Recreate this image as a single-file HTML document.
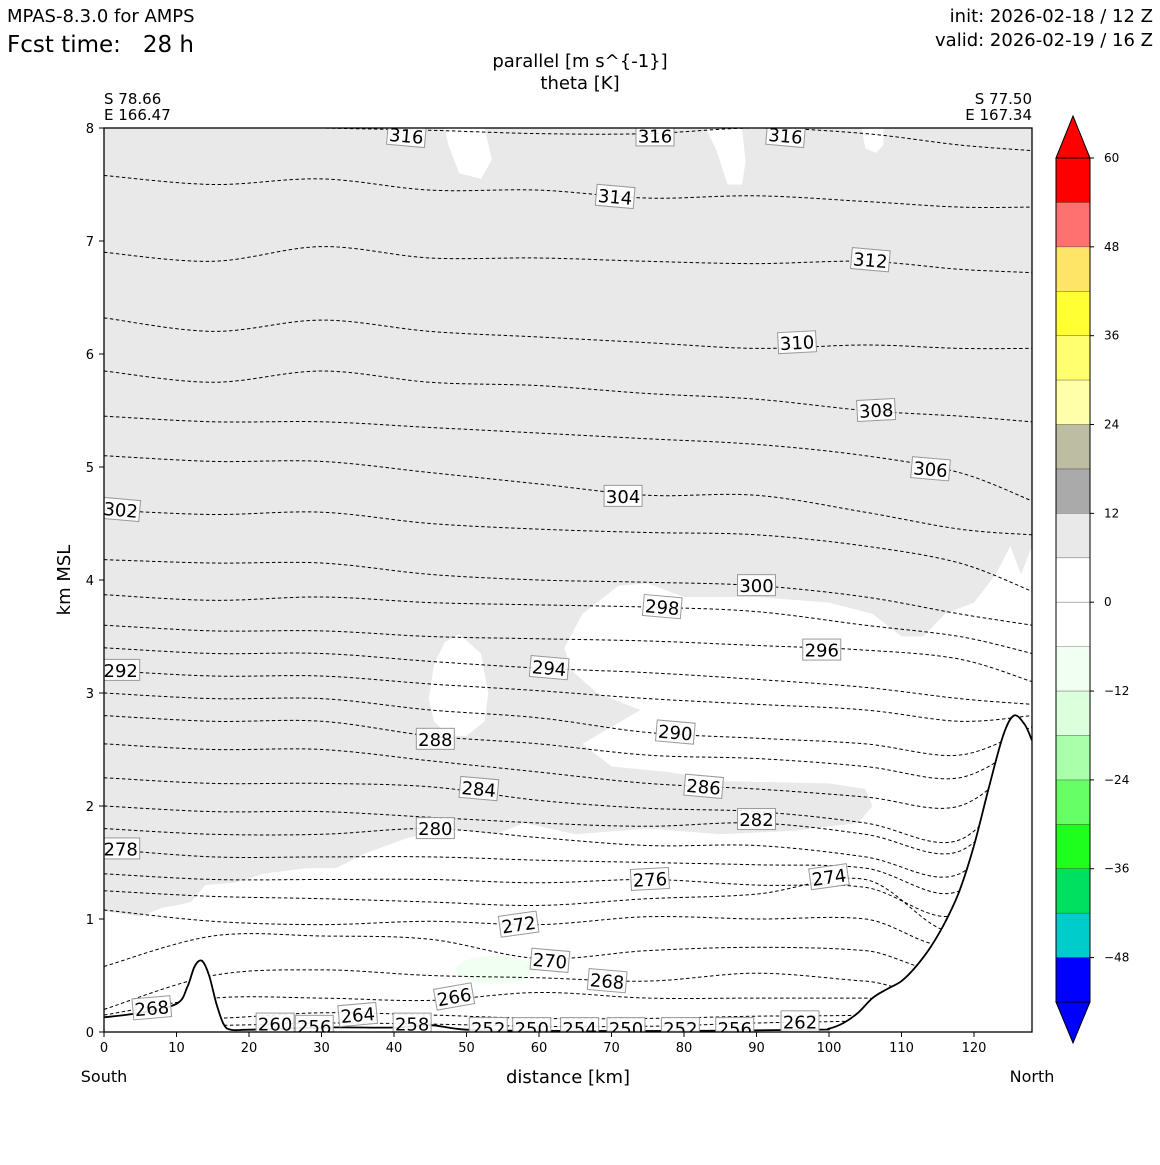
<!DOCTYPE html>
<html><head><meta charset="utf-8"><style>
body{margin:0;background:#fff;}
svg{font-family:"DejaVu Sans","Liberation Sans",sans-serif;}
</style></head><body>
<svg id="chart" width="1160" height="1160" viewBox="0 0 1160 1160" xmlns="http://www.w3.org/2000/svg">
<rect width="1160" height="1160" fill="#fff"/>
<text x="7" y="22" font-size="18">MPAS-8.3.0 for AMPS</text>
<text x="7" y="52" font-size="23" xml:space="preserve">Fcst time:   28 h</text>
<text x="1153" y="22" font-size="18" text-anchor="end">init: 2026-02-18 / 12 Z</text>
<text x="1153" y="46" font-size="18" text-anchor="end">valid: 2026-02-19 / 16 Z</text>
<text x="580" y="67" font-size="18" text-anchor="middle">parallel [m s^{-1}]</text>
<text x="580" y="89" font-size="18" text-anchor="middle">theta [K]</text>
<text x="104" y="104" font-size="15">S 78.66</text>
<text x="104" y="120" font-size="15">E 166.47</text>
<text x="1032" y="104" font-size="15" text-anchor="end">S 77.50</text>
<text x="1032" y="120" font-size="15" text-anchor="end">E 167.34</text>
<text transform="translate(70,580) rotate(-90)" font-size="18" text-anchor="middle">km MSL</text>
<text x="568" y="1083" font-size="18" text-anchor="middle">distance [km]</text>
<text x="104" y="1082" font-size="16" text-anchor="middle">South</text>
<text x="1032" y="1082" font-size="16" text-anchor="middle">North</text>
<g id="plot"></g>
<g id="cbar"></g>
</svg>
<script>
const xTicks=[0,10,20,30,40,50,60,70,80,90,100,110,120];
const yTicks=[0,1,2,3,4,5,6,7,8];
const thetaLevels=[316,314,312,310,308,306,304,302,300,298,296,294,292,290,288,286,284,282,280,278,276,274,272,270,268,266,264,262];
const stationX=[0,15,30,45,60,75,90,105,118,128];
const thetaHeights=[
[8.05,8.02,8.0,7.98,7.95,7.95,8.0,7.95,7.85,7.8],
[7.58,7.5,7.55,7.45,7.45,7.38,7.4,7.35,7.3,7.3],
[6.9,6.82,6.95,6.85,6.85,6.82,6.8,6.82,6.75,6.72],
[6.32,6.2,6.3,6.2,6.15,6.1,6.05,6.08,6.05,6.05],
[5.85,5.75,5.85,5.75,5.72,5.65,5.6,5.5,5.45,5.4],
[5.45,5.4,5.4,5.35,5.3,5.25,5.2,5.1,4.95,4.7],
[5.1,5.05,5.05,4.95,4.85,4.75,4.75,4.6,4.45,4.4],
[4.62,4.58,4.6,4.5,4.45,4.42,4.4,4.3,4.15,3.9],
[4.18,4.15,4.15,4.05,4.0,3.98,3.95,3.85,3.7,3.6],
[3.87,3.82,3.85,3.8,3.78,3.76,3.72,3.6,3.5,3.35],
[3.6,3.55,3.55,3.5,3.48,3.46,3.42,3.38,3.3,3.1],
[3.4,3.35,3.35,3.28,3.22,3.18,3.12,3.05,2.95,2.9],
[3.2,3.15,3.15,3.08,3.02,2.95,2.9,2.85,2.75,2.8],
[3.0,2.95,2.95,2.85,2.78,2.65,2.6,2.55,2.45,2.7],
[2.8,2.75,2.75,2.62,2.55,2.45,2.42,2.35,2.25,2.6],
[2.55,2.5,2.5,2.4,2.3,2.2,2.15,2.08,2.0,2.5],
[2.25,2.2,2.2,2.17,2.05,1.98,1.95,1.85,1.7,2.4],
[2.0,1.95,1.95,1.9,1.85,1.82,1.85,1.75,1.6,2.3],
[1.8,1.75,1.75,1.8,1.72,1.65,1.65,1.55,1.4,2.2],
[1.62,1.55,1.55,1.55,1.52,1.5,1.48,1.45,1.25,2.1],
[1.4,1.35,1.35,1.35,1.32,1.35,1.3,1.28,1.05,2.0],
[1.25,1.2,1.18,1.15,1.12,1.18,1.22,1.35,0.9,1.9],
[1.08,0.98,0.95,0.98,0.95,1.02,1.0,1.0,0.8,1.8],
[0.58,0.85,0.85,0.82,0.65,0.72,0.75,0.72,0.6,1.7],
[0.2,0.5,0.55,0.5,0.48,0.45,0.52,0.45,0.4,1.6],
[0.15,0.3,0.3,0.28,0.35,0.3,0.3,0.3,0.3,1.5],
[0.12,0.12,0.17,0.15,0.12,0.12,0.14,0.15,0.2,1.4],
[0.1,0.06,0.08,0.07,0.05,0.05,0.08,0.1,0.15,1.3]];
const labelX=[41.7,76,94,70.5,105.7,95.6,106.5,114,71.6,2.3,90,77,99,61.4,2.3,78.8,45.7,82.7,51.7,90,45.7,2.3,75.3,100,57.2,61.5,69.4,6.6,48.3,35,96,23.6,29,42.5,53,59,65.6,72,79.5,87];
const labelH=[7.93,7.93,7.93,7.39,6.83,6.1,5.5,4.98,4.74,4.62,3.95,3.76,3.38,3.22,3.2,2.65,2.59,2.17,2.15,1.88,1.8,1.62,1.35,1.37,0.95,0.63,0.45,0.21,0.31,0.15,0.09,0.07,0.05,0.07,0.03,0.03,0.03,0.03,0.03,0.03];
const labelText=["316","316","316","314","312","310","308","306","304","302","300","298","296","294","292","290","288","286","284","282","280","278","276","274","272","270","268","268","266","264","262","260","256","258","252","250","254","250","252","256"];
const labelRot=[5,0,5,5,5,-3,-3,5,0,5,0,5,0,5,0,5,0,5,5,0,0,0,-3,-8,-8,5,5,-5,-10,-5,0,0,0,0,0,0,0,0,0,0];
const terrX=[0,5,10,11.5,12.5,13.5,14.5,15.5,16.5,17.5,20,30,40,45,50,60,80,98,100,102,104,106,108,110,112,114,116,118,120,122,124,125.5,127,128];
const terrH=[0.13,0.17,0.25,0.4,0.58,0.63,0.5,0.25,0.07,0.02,0.02,0.04,0.04,0.06,0.02,0.01,0.01,0.02,0.03,0.08,0.17,0.3,0.38,0.45,0.58,0.75,0.97,1.25,1.65,2.15,2.62,2.8,2.72,2.58];
const grayX=[0,128,128,126.5,125,123,120,116,113,110,106,100,90,80,75,71,66,63.5,64.5,68,74,70,66,70,78,85,100,105,106,104,95,85,75,65,58,54,48,42,36,32,28,22,18,14,12,10,8,5,0];
const grayH=[8,8,4.3,4.05,4.3,4.05,3.8,3.7,3.5,3.5,3.7,3.8,3.85,3.85,3.97,3.95,3.7,3.4,3.2,3.0,2.85,2.7,2.55,2.35,2.3,2.22,2.2,2.15,2.0,1.85,1.78,1.75,1.8,1.75,1.85,1.75,1.8,1.72,1.58,1.45,1.45,1.4,1.32,1.3,1.15,1.12,1.1,1.02,1.07];
const patchAX=[44.8,45.5,47,49,52,53,52.5,50,47.5,45.5];
const patchAH=[2.95,3.25,3.45,3.52,3.35,3.0,2.75,2.62,2.62,2.75];
const patchTX=[[47,47.5,49,52,53.5,52.5,50],[83,84.5,86,88,88.5,88],[104.5,105,106.5,107.5,107.5]];
const patchTH=[[8,7.85,7.6,7.55,7.72,8,8],[8,7.8,7.5,7.5,7.7,8],[8,7.82,7.78,7.85,8]];
const cbLevels=[60,54,48,42,36,30,24,18,12,6,0,-6,-12,-18,-24,-30,-36,-42,-48,-54];
const cbColors=["#ff0000","#ff7070","#ffe566","#ffff33","#ffff70","#ffffaa","#bdbda3","#aaaaaa","#e9e9e9","#ffffff","#ffffff","#f0fff0","#dcffdc","#aaffaa","#66ff66","#1eff1e","#00e060","#00cccc","#0000ff"];
const cbTicks=[60,48,36,24,12,0,-12,-24,-36,-48];

const NS="http://www.w3.org/2000/svg";
const X0=104,X1=1032,Y0=1032,Y1=128;
const xs=v=>X0+v*(X1-X0)/128;
const ys=v=>Y0-v*(Y0-Y1)/8;
const plot=document.getElementById('plot');
function mk(tag,attrs,parent){const e=document.createElementNS(NS,tag);for(const k in attrs)e.setAttribute(k,attrs[k]);(parent||plot).appendChild(e);return e;}
function poly(X,H){return X.map((x,i)=>xs(x).toFixed(1)+','+ys(H[i]).toFixed(1)).join(' ');}
function smooth(pts){let d='M'+pts[0][0]+','+pts[0][1];for(let i=0;i<pts.length-1;i++){const p0=pts[Math.max(i-1,0)],p1=pts[i],p2=pts[i+1],p3=pts[Math.min(i+2,pts.length-1)];const c1=[p1[0]+(p2[0]-p0[0])/6,p1[1]+(p2[1]-p0[1])/6],c2=[p2[0]-(p3[0]-p1[0])/6,p2[1]-(p3[1]-p1[1])/6];d+=' C'+c1[0].toFixed(1)+','+c1[1].toFixed(1)+' '+c2[0].toFixed(1)+','+c2[1].toFixed(1)+' '+p2[0].toFixed(1)+','+p2[1].toFixed(1);}return d;}
const defs=mk('defs',{});const cp=mk('clipPath',{id:'pc'},defs);mk('rect',{x:X0,y:Y1,width:X1-X0,height:Y0-Y1},cp);
const g=mk('g',{'clip-path':'url(#pc)'});
let e=mk('polygon',{points:poly(grayX,grayH),fill:'#e9e9e9'},g);


e=mk('polygon',{points:poly(patchAX,patchAH),fill:'#fff'},g);


patchTX.forEach((px,i)=>{const p=mk('polygon',{points:poly(px,patchTH[i]),fill:'#fff'},g);

});
e=mk('ellipse',{cx:xs(54),cy:ys(0.55),rx:40,ry:14,fill:'#f0fff0'},g);


thetaLevels.forEach((lv,i)=>{const pts=stationX.map((x,j)=>[xs(x),ys(thetaHeights[i][j])]);
const p=mk('path',{d:smooth(pts),fill:'none',stroke:'#000','stroke-width':1,'stroke-dasharray':'3.5,2.5'},g);

});
const tp=terrX.map((x,i)=>[xs(x),ys(terrH[i])]);
const td=smooth(tp);
e=mk('path',{d:td+' L'+xs(128)+','+(Y0+5)+' L'+xs(0)+','+(Y0+5)+' Z',fill:'#fff'},g);


e=mk('path',{d:td,fill:'none',stroke:'#000','stroke-width':1.8},g);


labelText.forEach((t,i)=>{const cx=xs(labelX[i]),cy=ys(labelH[i]);const lg=mk('g',{transform:`translate(${cx},${cy}) rotate(${labelRot[i]})`},g);


mk('rect',{x:-19,y:-11,width:38,height:21,fill:'#fff','fill-opacity':0.9,stroke:'#999','stroke-width':1},lg);
const tx=mk('text',{x:0,y:6.5,'font-size':18,'text-anchor':'middle'},lg);tx.textContent=t;});
e=mk('rect',{x:X0,y:Y1,width:X1-X0,height:Y0-Y1,fill:'none',stroke:'#000','stroke-width':1.3});


xTicks.forEach(t=>{mk('line',{x1:xs(t),x2:xs(t),y1:Y0,y2:Y0+5,stroke:'#000'});const tx=mk('text',{x:xs(t),y:Y0+20,'font-size':13,'text-anchor':'middle'});tx.textContent=t;

});
yTicks.forEach(t=>{mk('line',{x1:X0-5,x2:X0,y1:ys(t),y2:ys(t),stroke:'#000'});const tx=mk('text',{x:X0-10,y:ys(t)+5,'font-size':13,'text-anchor':'end'});tx.textContent=t;

});
const cb=document.getElementById('cbar');
const CX=1056,CW=34,CT=158,CB=1002;
const cy=v=>CT+(60-v)*(CB-CT)/114;
cbColors.forEach((c,i)=>{const r=mk('rect',{x:CX,y:cy(cbLevels[i]),width:CW,height:cy(cbLevels[i+1])-cy(cbLevels[i]),fill:c},cb);

});
for(let i=1;i<cbLevels.length-1;i++)mk('line',{x1:CX,x2:CX+CW,y1:cy(cbLevels[i]),y2:cy(cbLevels[i]),stroke:'#000','stroke-width':0.6,'stroke-opacity':0.5},cb);
e=mk('polygon',{points:`${CX},${CT} ${CX+CW/2},116 ${CX+CW},${CT}`,fill:'#ff0000',stroke:'#000'},cb);


e=mk('polygon',{points:`${CX},${CB} ${CX+CW/2},1043 ${CX+CW},${CB}`,fill:'#0000ff',stroke:'#000'},cb);


mk('rect',{x:CX,y:CT,width:CW,height:CB-CT,fill:'none',stroke:'#000'},cb);
cbTicks.forEach(t=>{mk('line',{x1:CX+CW,x2:CX+CW+4,y1:cy(t),y2:cy(t),stroke:'#000'},cb);const tx=mk('text',{x:1104,y:cy(t)+4,'font-size':12},cb);tx.textContent=t<0?'\u2212'+(-t):t;

});
</script>
</body></html>
